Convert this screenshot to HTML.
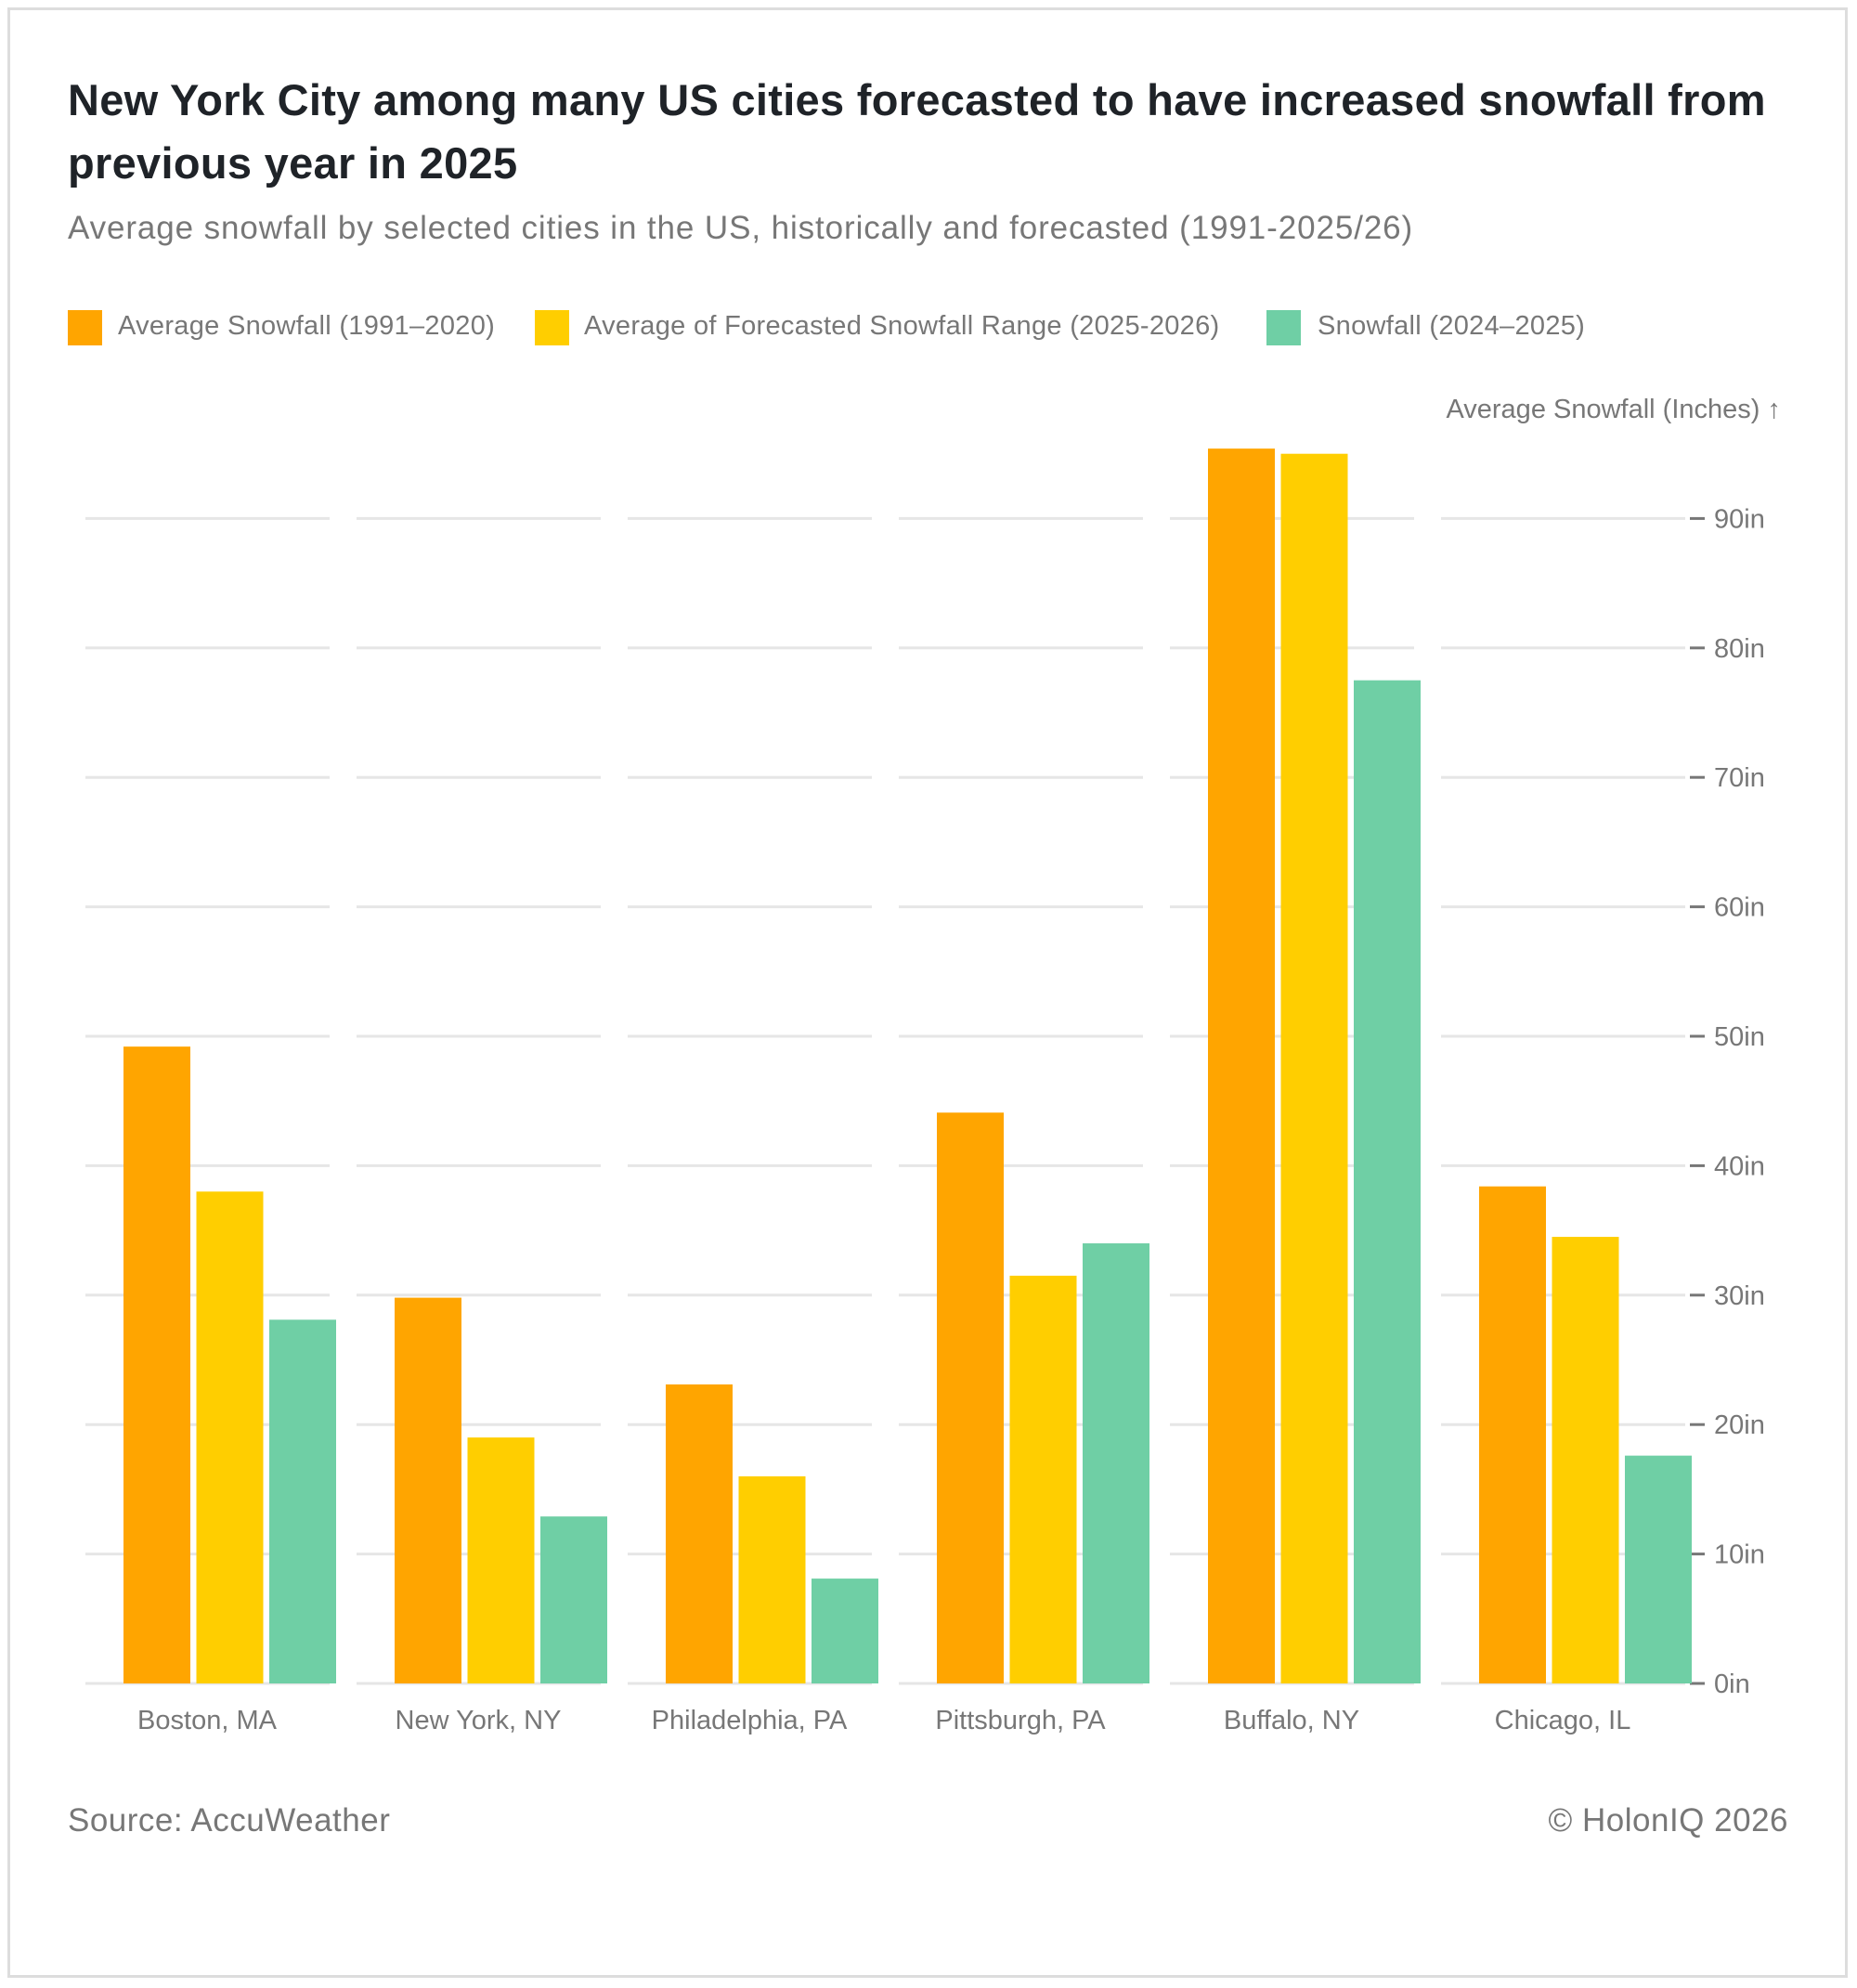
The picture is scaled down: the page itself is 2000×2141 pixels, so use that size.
<!DOCTYPE html>
<html><head><meta charset="utf-8">
<style>
html,body{margin:0;padding:0;background:#fff;}
body{width:2000px;height:2141px;position:relative;overflow:hidden;font-family:"Liberation Sans",sans-serif;}
.card{position:absolute;left:8px;top:8px;width:1982px;height:2122px;border:3px solid #ddd;box-sizing:border-box;}
.t{position:absolute;white-space:nowrap;}
</style></head>
<body>
<div class="card"></div>
<div class="t" style="left:73px;top:74px;font-size:47px;font-weight:bold;letter-spacing:0.3px;color:#1f2328;line-height:68px;">New York City among many US cities forecasted to have increased snowfall from<br>previous year in 2025</div>
<div class="t" style="left:73px;top:226px;font-size:35px;letter-spacing:0.9px;color:#777;">Average snowfall by selected cities in the US, historically and forecasted (1991-2025/26)</div>

<div>
<div style="position:absolute;left:73px;top:334px;width:37px;height:38px;background:#ffa500;"></div>
<div class="t" style="left:127px;top:335px;font-size:29px;letter-spacing:0.3px;color:#777;">Average Snowfall (1991–2020)</div>
<div style="position:absolute;left:576px;top:334px;width:37px;height:38px;background:#ffce00;"></div>
<div class="t" style="left:629px;top:335px;font-size:29px;letter-spacing:0.3px;color:#777;">Average of Forecasted Snowfall Range (2025-2026)</div>
<div style="position:absolute;left:1364px;top:334px;width:37px;height:38px;background:#6fcfa5;"></div>
<div class="t" style="left:1419px;top:335px;font-size:29px;letter-spacing:0.3px;color:#777;">Snowfall (2024–2025)</div>
</div>

<svg id="chart" width="2000" height="2141" style="position:absolute;left:0;top:0;"></svg>

<div class="t" style="left:73px;top:1941px;font-size:35px;letter-spacing:0.5px;color:#777;">Source: AccuWeather</div>
<div class="t" style="right:74px;top:1941px;font-size:35px;letter-spacing:0.5px;color:#777;">© HolonIQ 2026</div>

<script>
const categories = ["Boston, MA","New York, NY","Philadelphia, PA","Pittsburgh, PA","Buffalo, NY","Chicago, IL"];
const avgSnowfall = [49.2, 29.8, 23.1, 44.1, 95.4, 38.4];
const forecastSnowfall = [38.0, 19.0, 16.0, 31.5, 95.0, 34.5];
const snowfall2024 = [28.1, 12.9, 8.1, 34.0, 77.5, 17.6];
const tickValues = [0,10,20,30,40,50,60,70,80,90];
const tickLabels = ["0in","10in","20in","30in","40in","50in","60in","70in","80in","90in"];

const NS = "http://www.w3.org/2000/svg";
const svg = document.getElementById('chart');
const y0 = 1813, pxPer = 13.94;
const y = v => y0 - v * pxPer;
const groupX = i => 92 + i * 292;
function mk(tag, attrs){const e=document.createElementNS(NS,tag);for(const k in attrs)e.setAttribute(k,attrs[k]);svg.appendChild(e);return e;}

tickValues.forEach((v,ti)=>{
  categories.forEach((c,i)=>{
    const l = mk('line',{x1:groupX(i),x2:groupX(i)+263,y1:y(v),y2:y(v),stroke:'#e6e6e6','stroke-width':3});
    
    
  });
  const tk = mk('line',{x1:1820,x2:1836,y1:y(v),y2:y(v),stroke:'#777','stroke-width':3});
  
  
  const t = mk('text',{x:1846,y:y(v)+10,'font-size':29,fill:'#777','font-family':'Liberation Sans, sans-serif'});
  t.textContent = tickLabels[ti];
  
  
});

const series = [[avgSnowfall,'#ffa500','bar-avg'],[forecastSnowfall,'#ffce00','bar-forecast'],[snowfall2024,'#6fcfa5','bar-2024']];
categories.forEach((c,i)=>{
  series.forEach(([arr,col,nm],s)=>{
    const x = groupX(i) + 41 + s*78.5;
    const r = mk('rect',{x:x,y:y(arr[i]),width:72,height:y0-y(arr[i]),fill:col});
    
    
  });
  const t = mk('text',{x:groupX(i)+131,y:1862,'font-size':29,fill:'#777','text-anchor':'middle','font-family':'Liberation Sans, sans-serif'});
  t.textContent = c;
  
  
});

const at = mk('text',{x:1918,y:450,'font-size':29,fill:'#777','text-anchor':'end','font-family':'Liberation Sans, sans-serif'});
at.textContent = 'Average Snowfall (Inches) ↑';


</script>
</body></html>
